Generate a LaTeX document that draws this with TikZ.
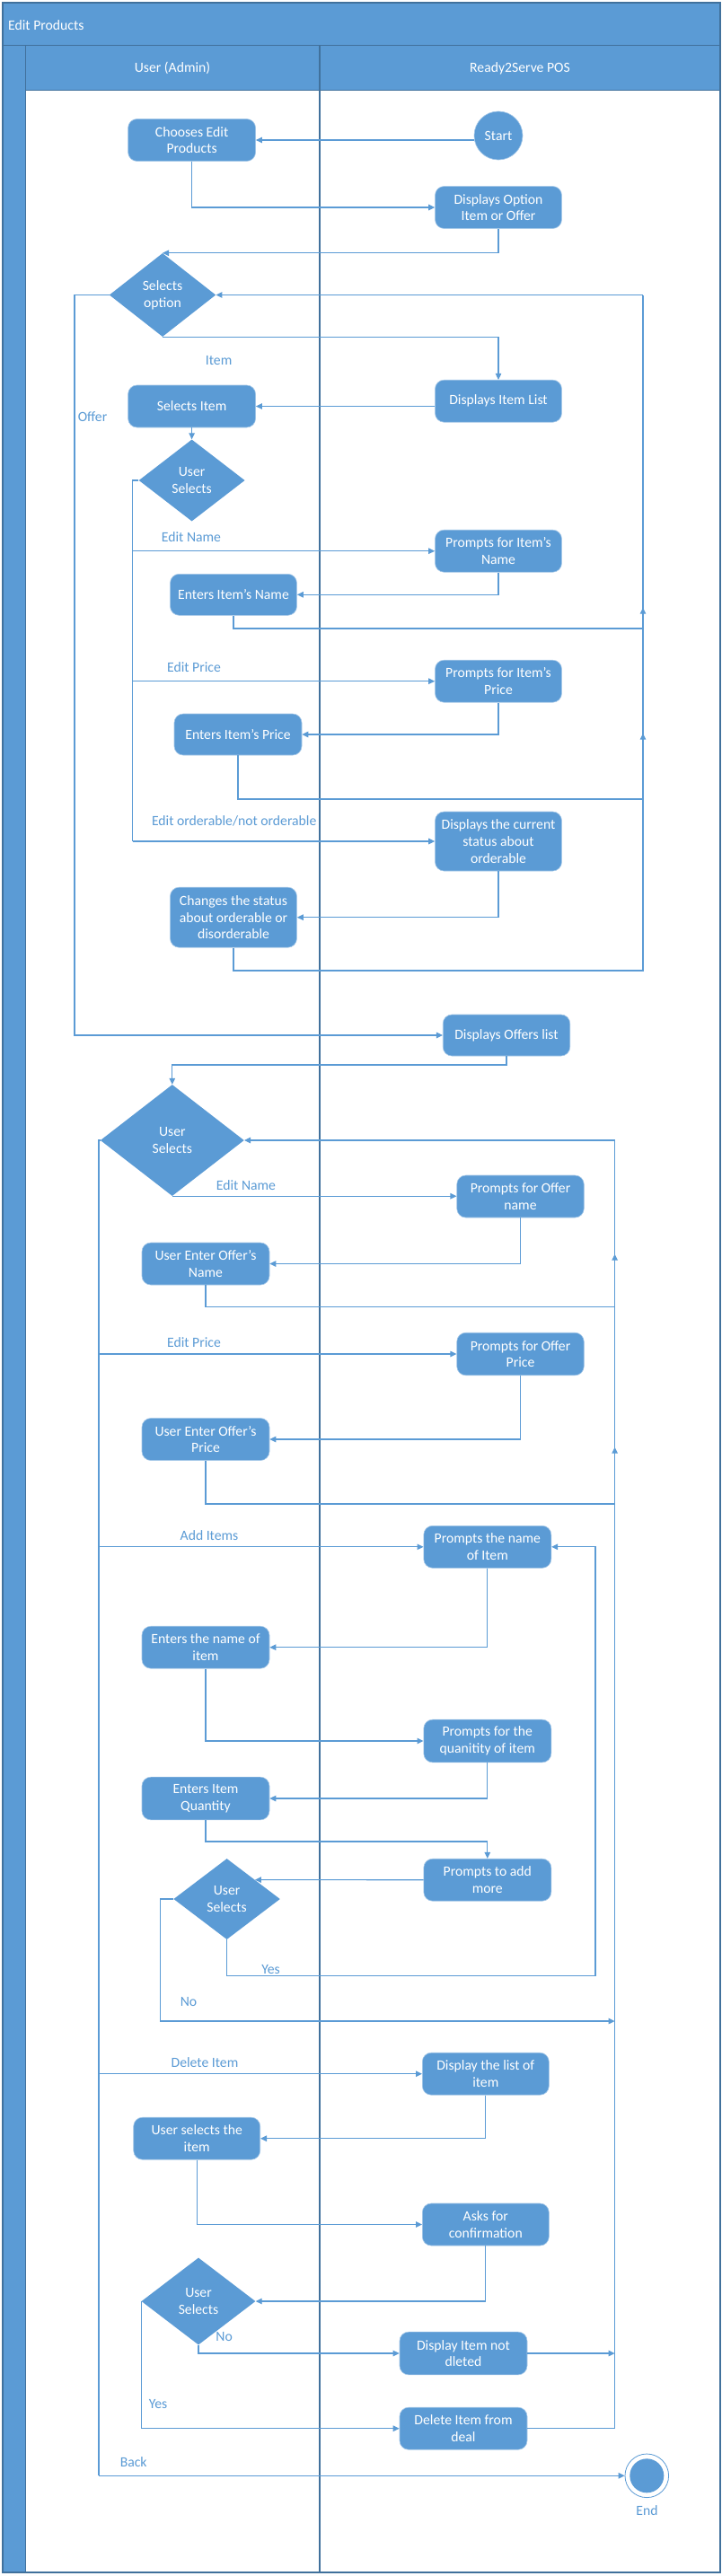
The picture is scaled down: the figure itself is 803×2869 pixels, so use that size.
\documentclass[tikz,border=0pt]{standalone}
\usepackage{fontspec}
\setmainfont{Carlito}
\usetikzlibrary{arrows.meta,shapes.geometric,calc}
\definecolor{fillb}{HTML}{5B9BD5}
\definecolor{lineb}{HTML}{41719C}
\definecolor{edgeb}{HTML}{5B9BD5}
\begin{document}
\begin{tikzpicture}[x=1pt,y=-1pt,
 every node/.style={font=\fontsize{15.7}{18.7}\selectfont},
 act/.style={draw=fillb!55!white, line width=0.6pt, fill=fillb, rounded corners=10pt, text=white, minimum width=141pt, minimum height=47pt, align=center, inner sep=2pt},
 dec/.style={diamond, fill=fillb, text=white, align=center, inner sep=0pt},
 conn/.style={draw=edgeb, line width=1.1pt},
 arr/.style={conn, -{Triangle[length=7pt,width=6.5pt]}},
 lbl/.style={text=edgeb, inner sep=1pt},
 hdr/.style={text=white, inner sep=1pt}]
\useasboundingbox (0,0) rectangle (803,2869);
\fill[white] (0,0) rectangle (803,2869);
% frame
\fill[fillb] (3,3) rectangle (802,51);
\fill[fillb] (3,51) rectangle (28,2865);
\fill[fillb] (28,51) rectangle (802,100);
\draw[lineb, line width=1.2pt] (3,3) rectangle (802,2865);
\draw[lineb, line width=1pt] (3,51) -- (802,51);
\draw[lineb, line width=1pt] (28,51) -- (28,2865);
\draw[lineb, line width=1pt] (28,100) -- (802,100);
\draw[lineb, line width=1.2pt] (356,51) -- (356,2865);
\node[hdr, anchor=west] (title) at (8,28) {Edit Products};
\node[hdr] (laneU) at (192,76) {User (Admin)};
\node[hdr] (laneR) at (579,76) {Ready2Serve POS};

% nodes
\node[circle, fill=fillb, draw=fillb!55!white, line width=0.6pt, text=white, minimum size=54pt, inner sep=0pt] (start) at (555,151) {Start};
\node[act, minimum width=142pt] (cep) at (213.6,156) {Chooses Edit\\Products};
\node[act] (dopt) at (555,231) {Displays Option\\Item or Offer};
\node[dec, minimum width=118.5pt, minimum height=93pt] (sopt) at (181,328.5) {Selects\\option};
\node[act] (dil) at (555,446.7) {Displays Item List};
\node[act, minimum width=142pt] (si) at (213.6,452.5) {Selects Item};
\node[dec, minimum width=118pt, minimum height=91pt] (us1) at (213.6,535) {User\\Selects};
\node[act] (pin) at (555,613.7) {Prompts for Item's\\Name};
\node[act, minimum height=46pt] (ein) at (260,662.3) {Enters Item's Name};
\node[act] (pip) at (555,758.7) {Prompts for Item's\\Price};
\node[act, minimum width=142pt, minimum height=46pt] (eip) at (265,818) {Enters Item's Price};
\node[act, minimum height=66pt] (dcs) at (555,937) {Displays the current\\status about\\orderable};
\node[act, minimum height=67pt] (chs) at (260,1021.7) {Changes the status\\about orderable or\\disorderable};
\node[act, minimum width=141.5pt, minimum height=46pt] (dol) at (564,1153) {Displays Offers list};
\node[dec, minimum width=160pt, minimum height=124pt] (us2) at (191.8,1270) {User\\Selects};
\node[act, minimum width=141.5pt] (pon) at (579.5,1332.5) {Prompts for Offer\\name};
\node[act, minimum width=142pt] (eon) at (229,1407.5) {User Enter Offer's\\Name};
\node[act, minimum width=141.5pt, minimum height=47.5pt] (pop) at (579.5,1508) {Prompts for Offer\\Price};
\node[act, minimum width=142pt] (eop) at (229,1603) {User Enter Offer's\\Price};
\node[act, minimum width=142pt] (pni) at (542.8,1722.8) {Prompts the name\\of Item};
\node[act, minimum width=142pt] (eni) at (229,1834.7) {Enters the name of\\item};
\node[act, minimum width=142pt, minimum height=47.7pt] (pqi) at (542.8,1939) {Prompts for the\\quanitity of item};
\node[act, minimum width=142pt, minimum height=47.7pt] (eiq) at (229,2003) {Enters Item\\Quantity};
\node[act, minimum width=142pt] (pam) at (542.8,2093.7) {Prompts to add\\more};
\node[dec, minimum width=118.5pt, minimum height=90pt] (us3) at (252.6,2115) {User\\Selects};
\node[act] (dli) at (540.8,2309.7) {Display the list of\\item};
\node[act] (usi) at (219.2,2381.7) {User selects the\\item};
\node[act] (afc) at (540.8,2477.5) {Asks for\\confirmation};
\node[dec, minimum width=127pt, minimum height=97pt] (us4) at (221,2563) {User\\Selects};
\node[act, minimum width=142pt, minimum height=47.7pt] (dnd) at (516,2621) {Display Item not\\dleted};
\node[act, minimum width=142pt] (did) at (516,2704.7) {Delete Item from\\deal};
\node[circle, draw=edgeb, line width=0.8pt, minimum size=48.6pt, inner sep=0pt] (endc) at (720.3,2757.3) {};
\node[circle, fill=fillb, minimum size=38pt, inner sep=0pt] (endin) at (endc.center) {};
\node[lbl] (endl) at (720.5,2796) {End};

% bend coordinates
\coordinate (b1top) at (147.7,535);
\coordinate (b1bot) at (147.7,937);
\coordinate (loopA) at (716,328.5);
\coordinate (j1) at (716,700);
\coordinate (j2) at (716,890);
\coordinate (rb1) at (716,1081);
\coordinate (ob) at (83,328.5);
\coordinate (j3) at (191.8,1186);
\coordinate (loopB) at (684.6,1270);
\coordinate (j4) at (684.6,1455.7);
\coordinate (j5) at (684.6,1675);
\coordinate (lb2top) at (110,1270);
\coordinate (lb2bot) at (110,2757.3);
\coordinate (j6) at (229,2051);
\coordinate (j7) at (663,2200.7);
\coordinate (j8) at (178.5,2115);
\coordinate (j9) at (684.6,2251);

% connectors
\draw[arr] (start.west |- cep) -- (cep.east);
\draw[arr] (cep.south) |- (dopt.west);
\draw[arr] (dopt.south) |- (sopt.north);
\draw[arr] (sopt.south) -| (dil.north);
\node[lbl] (lItem) at (243.6,402) {Item};
\draw[arr] (dil.west |- si) -- (si.east);
\draw[arr] (si.south) -- (us1.north);
\draw[conn] (us1.west) -- (b1top) -- (b1bot);
\draw[arr] (b1top |- pin.west) -- (pin.west);
\node[lbl] (lEN1) at (213,598) {Edit Name};
\draw[arr] (b1top |- pip.west) -- (pip.west);
\node[lbl] (lEP1) at (216,742.7) {Edit Price};
\draw[arr] (b1bot) -- (dcs.west);
\node[lbl] (lEO) at (260.7,914) {Edit orderable/not orderable};
\draw[arr] (pin.south) |- (ein.east);
\draw[arr] (pip.south) |- (eip.east);
\draw[arr] (dcs.south) |- (chs.east);
\draw[conn] (ein.south) |- (j1);
\draw[conn] (eip.south) |- (j2);
\draw[conn] (chs.south) |- (rb1) -- (loopA);
\draw[arr] (j1) -- ++(0,-23.3);
\draw[arr] (j2) -- ++(0,-73.3);
\draw[arr] (loopA) -- (sopt.east);
\draw[arr] (sopt.west) -- (ob) |- (dol.west);
\node[lbl] (lOffer) at (103,464) {Offer};
\draw[arr] (dol.south) |- (j3) -- (us2.north);
% offers section
\draw[arr] (loopB) -- (us2.east);
\draw[conn] (did.east) -| (loopB);
\draw[conn] (eon.south) |- (j4);
\draw[conn] (eop.south) |- (j5);
\draw[arr] (j4) -- ++(0,-59);
\draw[arr] (j5) -- ++(0,-63.3);
\draw[arr] (us2.south) -- (us2.south -| pon.west);
\node[lbl] (lEN2) at (274,1320) {Edit Name};
\draw[arr] (pon.south) |- (eon.east);
\draw[conn] (us2.west) -- (lb2top) -- (lb2bot);
\draw[arr] (lb2top |- pop.west) -- (pop.west);
\node[lbl] (lEP2) at (216,1495.3) {Edit Price};
\draw[arr] (pop.south) |- (eop.east);
\draw[arr] (lb2top |- pni.west) -- (pni.west);
\node[lbl] (lAdd) at (233,1710) {Add Items};
\draw[arr] (pni.south) |- (eni.east);
\draw[arr] (eni.south) |- (pqi.west);
\draw[arr] (pqi.south) |- (eiq.east);
\draw[arr] (eiq.south) -- (j6) -| (pam.north);
\draw[arr] (pam.west) -- ($(us3.north)!0.527!(us3.east)$);
\draw[arr] (us3.south) |- (j7) |- (pni.east);
\node[lbl] (lYes1) at (301.5,2193.3) {Yes};
\draw[arr] (us3.west) -- (j8) |- (j9);
\node[lbl] (lNo1) at (210,2229.3) {No};
\draw[arr] (lb2top |- dli.west) -- (dli.west);
\node[lbl] (lDel) at (228,2296.7) {Delete Item};
\draw[arr] (dli.south) |- (usi.east);
\draw[arr] (usi.south) |- (afc.west);
\draw[arr] (afc.south) |- (us4.east);
\draw[arr] (us4.south) |- (dnd.west);
\node[lbl] (lNo2) at (249.7,2602.7) {No};
\draw[arr] (dnd.east) -- (dnd.east -| loopB);
\draw[arr] (us4.west) |- (did.west);
\node[lbl] (lYes2) at (176,2677.3) {Yes};
\draw[arr] (lb2bot) -- (endc.west);
\node[lbl] (lBack) at (148.7,2742.3) {Back};
\end{tikzpicture}
\end{document}
